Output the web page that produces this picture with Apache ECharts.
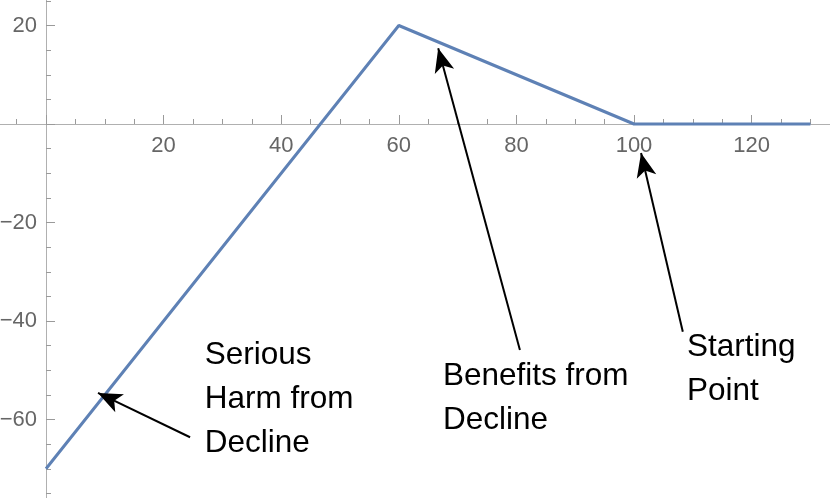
<!DOCTYPE html>
<html>
<head>
<meta charset="utf-8">
<script src="https://cdn.jsdelivr.net/npm/echarts@6/dist/echarts.min.js"></script>
<style>
  html, body { margin: 0; padding: 0; background: #fff; }
  #chart { width: 830px; height: 498px; }
</style>
</head>
<body>
<div id="chart"></div>
<script>
// piecewise curve
const curveX = [0, 60, 100, 130]
const curveY = [-70, 20, 0, 0]

// annotations: text anchor (left, middle) and arrow tail -> tip, in data units
const noteText = ['Serious\nHarm from\nDecline', 'Benefits from\nDecline', 'Starting\nPoint']
const noteX = [27.0, 67.5, 109.0]
const noteY = [-56.0, -55.7, -49.8]
const arrowFrom = [[24.5, -63.6], [80.6, -45.9], [108.3, -42.2]]
const arrowTo = [[8.84, -54.6], [66.7, 15.4], [101.2, -5.9]]

const axisGray = '#b0b0b0'
const tickGray = '#9a9a9a'
const labelGray = '#666666'

const chart = echarts.init(document.getElementById('chart'))

const fmt = (v, ok) => ok ? String(v).replace('-', '\u2212') : ''

// axes with line + ticks crossing at zero
const xBase = {
  type: 'value', min: -20, max: 140, interval: 20,
  axisLine: { onZero: true, lineStyle: { color: axisGray, width: 1 } },
  axisTick: { inside: true, length: 9, lineStyle: { color: tickGray } },
  minorTick: { show: true, splitNumber: 4, length: 5, lineStyle: { color: tickGray } },
  splitLine: { show: false },
  axisLabel: { show: false }
}
const yBase = {
  type: 'value', min: -80, max: 40, interval: 20,
  axisLine: { onZero: true, lineStyle: { color: axisGray, width: 1 } },
  axisTick: { inside: true, length: 9, lineStyle: { color: tickGray } },
  minorTick: { show: true, splitNumber: 4, length: 5, lineStyle: { color: tickGray } },
  splitLine: { show: false },
  axisLabel: { show: false }
}
// label-only copies, shifted onto the zero lines
const xLabels = {
  type: 'value', min: -20, max: 140, interval: 20, position: 'bottom', offset: -394,
  axisLine: { show: false, onZero: false }, axisTick: { show: false }, splitLine: { show: false },
  axisLabel: {
    color: labelGray, fontSize: 22, fontFamily: 'Liberation Sans, Arial', margin: 11,
    formatter: v => fmt(v, v > 0 && v < 140)
  }
}
const yLabels = {
  type: 'value', min: -80, max: 40, interval: 20, position: 'left', offset: -117.6,
  axisLine: { show: false, onZero: false }, axisTick: { show: false }, splitLine: { show: false },
  axisLabel: {
    color: labelGray, fontSize: 22, fontFamily: 'Liberation Sans, Arial', margin: 9,
    formatter: v => fmt(v, v !== 0 && v > -80 && v < 40)
  }
}

chart.setOption({
  animation: false,
  grid: { left: -71.6, right: -39.2, top: -73, bottom: -20, containLabel: false, outerBoundsMode: 'none' },
  xAxis: [xBase, xLabels],
  yAxis: [yBase, yLabels],
  series: [
    {
      type: 'line',
      data: curveX.map((x, i) => [x, curveY[i]]),
      showSymbol: false,
      lineStyle: { color: '#5E81B5', width: 3 },
      itemStyle: { color: '#5E81B5' },
      markLine: {
        silent: true,
        symbol: ['none', 'arrow'],
        symbolSize: [15, 24],
        label: { show: false },
        lineStyle: { color: '#000', width: 2, type: 'solid' },
        itemStyle: { color: '#000' },
        data: arrowFrom.map((p, i) => [{ coord: p }, { coord: arrowTo[i] }])
      }
    },
    {
      type: 'scatter',
      symbolSize: 0,
      silent: true,
      itemStyle: { opacity: 1 },
      data: noteX.map((x, i) => ({ value: [x, noteY[i]], name: noteText[i] })),
      label: {
        show: true, position: [0, 0], align: 'left', verticalAlign: 'middle',
        formatter: p => p.name,
        color: '#000', fontSize: 31.5, lineHeight: 44, fontFamily: 'Liberation Sans, Arial'
      }
    }
  ]
})
</script>
</body>
</html>
